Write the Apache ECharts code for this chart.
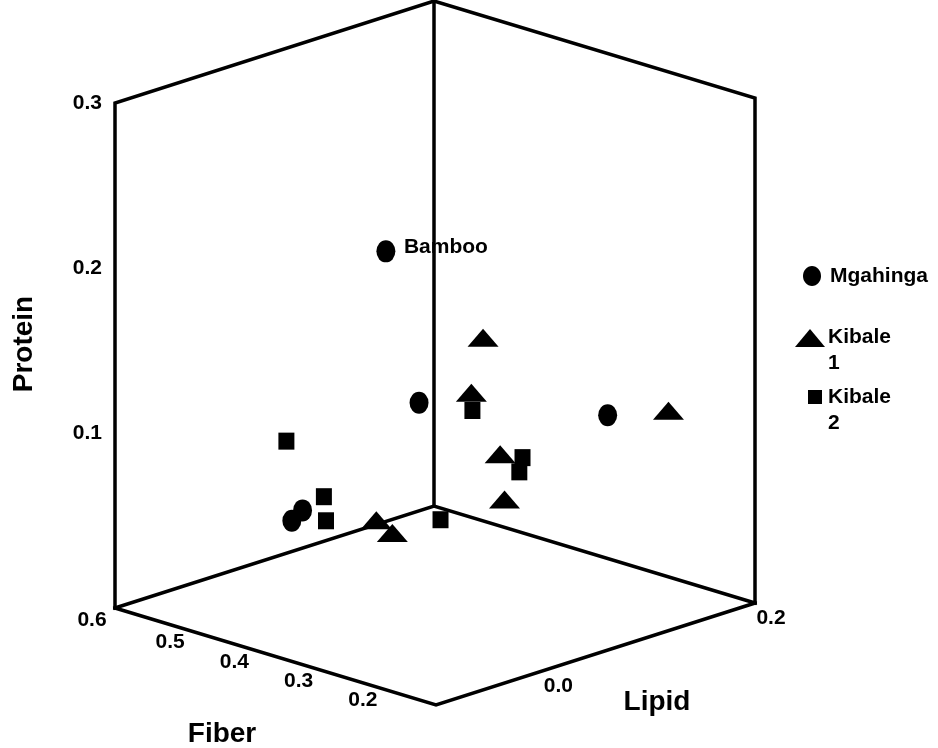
<!DOCTYPE html>
<html>
<head>
<meta charset="utf-8">
<script src="https://cdn.jsdelivr.net/npm/echarts@6/dist/echarts.min.js"></script>
<style>
html,body{margin:0;padding:0;background:#fff;}
#chart{width:938px;height:748px;}
</style>
</head>
<body>
<div id="chart"></div>
<script>
// ---------- data ----------
const fiberRange = [0.1, 0.6];
const lipidRange = [-0.1, 0.2];
const proteinRange = [-0.006, 0.3];

const fiberTicks = [0.2, 0.3, 0.4, 0.5, 0.6];
const lipidTicks = [0.0, 0.2];
const proteinTicks = [0.1, 0.2, 0.3];

const seriesNames = ['Mgahinga', 'Kibale 1', 'Kibale 2'];

const mgahingaFiber   = [0.40, 0.35, 0.25, 0.50, 0.52];
const mgahingaLipid   = [0.034, 0.035, 0.152, 0.016, 0.018];
const mgahingaProtein = [0.206, 0.120, 0.100, 0.041, 0.032];
const mgahingaLabels  = ['Bamboo', '', '', '', ''];

const kibale1Fiber   = [0.30, 0.30, 0.20, 0.28, 0.25, 0.40, 0.38];
const kibale1Lipid   = [0.065, 0.054, 0.179, 0.069, 0.055, 0.025, 0.028];
const kibale1Protein = [0.159, 0.128, 0.103, 0.090, 0.069, 0.045, 0.039];

const kibale2Fiber   = [0.55, 0.30, 0.27, 0.27, 0.48, 0.48, 0.30];
const kibale2Lipid   = [0.031, 0.055, 0.084, 0.081, 0.024, 0.026, 0.025];
const kibale2Protein = [0.074, 0.117, 0.086, 0.078, 0.050, 0.035, 0.057];

const axisTitles = ['Fiber', 'Lipid', 'Protein'];

// ---------- oblique 3D view (layout) ----------
const VIEW = { origin: [436, 705], fiber: [-321, -97], lipid: [319, -102], protein: [0, -505] };
function norm(v, r) { return (v - r[0]) / (r[1] - r[0]); }
function project(f, l, p) {
  const uf = norm(f, fiberRange), ul = norm(l, lipidRange), up = norm(p, proteinRange);
  return [
    VIEW.origin[0] + uf * VIEW.fiber[0] + ul * VIEW.lipid[0] + up * VIEW.protein[0],
    VIEW.origin[1] + uf * VIEW.fiber[1] + ul * VIEW.lipid[1] + up * VIEW.protein[1]
  ];
}
function projectSeries(fs, ls, ps) { return fs.map((f, i) => project(f, ls[i], ps[i])); }

const FONT = '"Liberation Sans", Arial, Helvetica, sans-serif';
const tickFont = 'bold 21px ' + FONT;
const titleFont = 'bold 28px ' + FONT;

// box edges from axis ranges
const F0 = fiberRange[0], F1 = fiberRange[1], L0 = lipidRange[0], L1 = lipidRange[1], P0 = proteinRange[0], P1 = proteinRange[1];
const boxPaths = [
  [project(F1, L0, P0), project(F1, L0, P1), project(F1, L1, P1), project(F0, L1, P1), project(F0, L1, P0)],
  [project(F1, L1, P1), project(F1, L1, P0)],
  [project(F1, L0, P0), project(F1, L1, P0), project(F0, L1, P0)],
  [project(F1, L0, P0), project(F0, L0, P0), project(F0, L1, P0)]
];

function textSeries(points, texts, styleFn, z) {
  return {
    type: 'custom', coordinateSystem: 'cartesian2d', silent: true, z: z, clip: false,
    data: points.map((pt, i) => [pt[0], pt[1], i]),
    renderItem: function (params, api) {
      const c = api.coord([api.value(0), api.value(1)]);
      const i = api.value(2);
      const s = styleFn(i);
      return {
        type: 'text', x: c[0] + s.dx, y: c[1] + s.dy,
        style: { text: texts[i], fill: '#000', font: s.font, align: s.align, verticalAlign: 'middle' }
      };
    }
  };
}

const fiberTickPts = fiberTicks.map(t => project(t, L0, P0));
const lipidTickPts = lipidTicks.map(t => project(F0, t, P0));
const proteinTickPts = proteinTicks.map(t => project(F1, L0, t));

const mgPts = projectSeries(mgahingaFiber, mgahingaLipid, mgahingaProtein);
const k1Pts = projectSeries(kibale1Fiber, kibale1Lipid, kibale1Protein);
const k2Pts = projectSeries(kibale2Fiber, kibale2Lipid, kibale2Protein);

const chart = echarts.init(document.getElementById('chart'), null, { renderer: 'canvas' });

const option = {
  animation: false,
  backgroundColor: '#fff',
  grid: { left: 0, right: 0, top: 0, bottom: 0 },
  xAxis: { type: 'value', min: 0, max: 938, show: false },
  yAxis: { type: 'value', min: 0, max: 748, inverse: true, show: false },
  series: [
    // box edges
    {
      type: 'custom', coordinateSystem: 'cartesian2d', silent: true, z: 2, clip: false,
      data: boxPaths.map((path, i) => [path[0][0], path[0][1], i]),
      renderItem: function (params, api) {
        const path = boxPaths[api.value(2)];
        return {
          type: 'polyline',
          shape: { points: path.map(p => api.coord(p)) },
          style: { stroke: '#000', lineWidth: 3.5, fill: null, lineJoin: 'miter', lineCap: 'square' }
        };
      }
    },
    // point label (under the box lines)
    textSeries(mgPts, mgahingaLabels, () => ({ dx: 18, dy: -4, font: 'bold 21px ' + FONT, align: 'left' }), 1),
    // tick labels
    textSeries(fiberTickPts, fiberTicks.map(t => t.toFixed(1)),
      i => fiberTicks[i] === F1 ? { dx: -23, dy: 12, font: tickFont, align: 'center' } : { dx: -9, dy: 15, font: tickFont, align: 'center' }, 2),
    textSeries(lipidTickPts, lipidTicks.map(t => t.toFixed(1)),
      () => ({ dx: 16, dy: 15, font: tickFont, align: 'center' }), 2),
    textSeries(proteinTickPts, proteinTicks.map(t => t.toFixed(1)),
      () => ({ dx: -13, dy: 0, font: tickFont, align: 'right' }), 2),
    // markers
    {
      name: seriesNames[0], type: 'scatter', z: 3, silent: true,
      symbol: 'circle', symbolSize: [19, 22], itemStyle: { color: '#000', opacity: 1 },
      data: mgPts
    },
    {
      name: seriesNames[1], type: 'scatter', z: 3, silent: true,
      symbol: 'triangle', symbolSize: [31, 18], itemStyle: { color: '#000', opacity: 1 },
      data: k1Pts
    },
    {
      name: seriesNames[2], type: 'scatter', z: 3, silent: true,
      symbol: 'rect', symbolSize: [16, 17], itemStyle: { color: '#000', opacity: 1 },
      data: k2Pts
    }
  ],
  graphic: [
    // axis titles
    { type: 'text', x: 222, y: 734, style: { text: axisTitles[0], font: titleFont, fill: '#000', align: 'center', verticalAlign: 'middle' } },
    { type: 'text', x: 657, y: 702, style: { text: axisTitles[1], font: titleFont, fill: '#000', align: 'center', verticalAlign: 'middle' } },
    { type: 'text', x: 24, y: 344, rotation: Math.PI / 2, style: { text: axisTitles[2], font: titleFont, fill: '#000', align: 'center', verticalAlign: 'middle' } },
    // legend
    { type: 'ellipse', shape: { cx: 812, cy: 276, rx: 9, ry: 10 }, style: { fill: '#000' } },
    { type: 'text', x: 830, y: 276, style: { text: seriesNames[0], font: 'bold 21px ' + FONT, fill: '#000', align: 'left', verticalAlign: 'middle' } },
    { type: 'polygon', shape: { points: [[795, 347], [825, 347], [810, 329]] }, style: { fill: '#000' } },
    { type: 'text', x: 828, y: 324, style: { text: seriesNames[1].replace(' ', '\n'), font: 'bold 21px ' + FONT, lineHeight: 26, fill: '#000', align: 'left', verticalAlign: 'top' } },
    { type: 'rect', shape: { x: 808, y: 390, width: 14, height: 14 }, style: { fill: '#000' } },
    { type: 'text', x: 828, y: 384, style: { text: seriesNames[2].replace(' ', '\n'), font: 'bold 21px ' + FONT, lineHeight: 26, fill: '#000', align: 'left', verticalAlign: 'top' } }
  ]
};
chart.setOption(option);
</script>
</body>
</html>
